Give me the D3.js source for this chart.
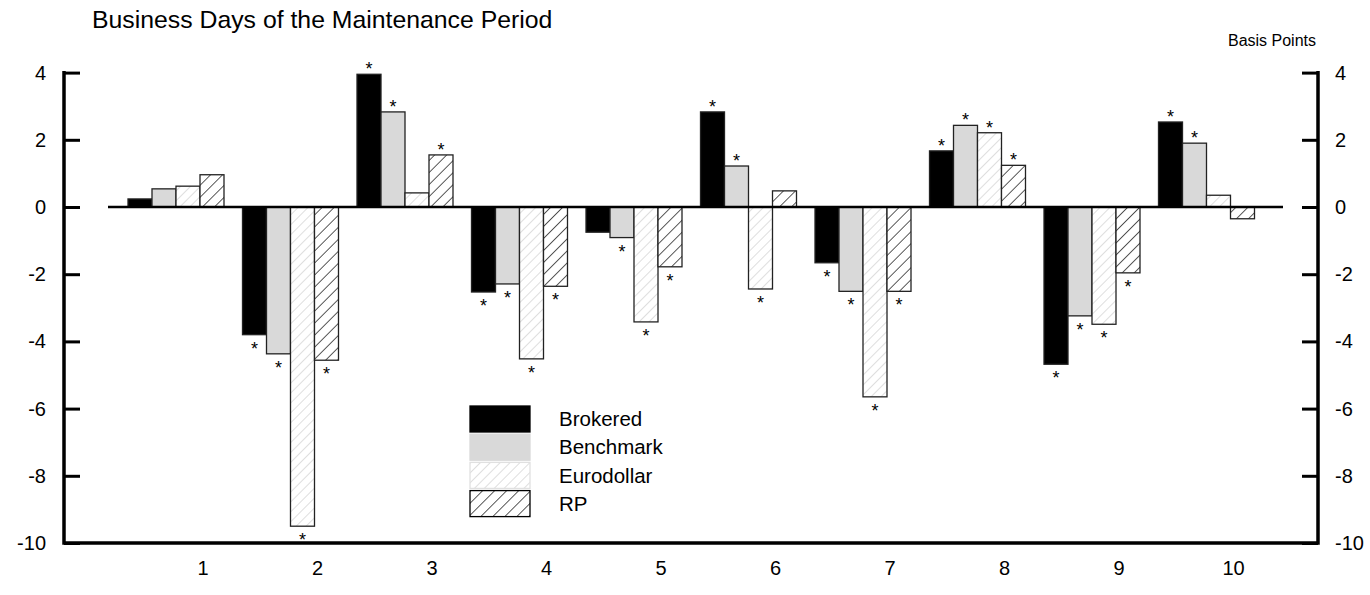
<!DOCTYPE html>
<html>
<head>
<meta charset="utf-8">
<script src="https://cdn.jsdelivr.net/npm/d3@7"></script>
<style>
  body { margin: 0; background: #fff; }
  svg text { font-family: "Liberation Sans", Arial, sans-serif; fill: #000; }
</style>
</head>
<body>
<script>
// business days of the maintenance period
const days = ['1', '2', '3', '4', '5', '6', '7', '8', '9', '10'];
const seriesNames = ['Brokered', 'Benchmark', 'Eurodollar', 'RP'];

// basis points
const brokered   = [0.24, -3.8, 3.95, -2.53, -0.75, 2.83, -1.66, 1.67, -4.68, 2.53];
const benchmark  = [0.54, -4.37, 2.83, -2.29, -0.91, 1.22, -2.51, 2.43, -3.24, 1.9];
const eurodollar = [0.62, -9.5, 0.42, -4.52, -3.42, -2.44, -5.65, 2.21, -3.49, 0.35];
const rp         = [0.96, -4.56, 1.55, -2.36, -1.78, 0.48, -2.51, 1.24, -1.96, -0.35];

// significance stars (1 = marked)
const starBrokered   = [0, 1, 1, 1, 0, 1, 1, 1, 1, 1];
const starBenchmark  = [0, 1, 1, 1, 1, 1, 1, 1, 1, 1];
const starEurodollar = [0, 1, 0, 1, 1, 1, 1, 1, 1, 0];
const starRp         = [0, 1, 1, 1, 1, 0, 1, 1, 1, 0];

const yTicks = [4, 2, 0, -2, -4, -6, -8, -10];

const values = [brokered, benchmark, eurodollar, rp];
const stars = [starBrokered, starBenchmark, starEurodollar, starRp];

const width = 1370, height = 595;
const axL = 64, axR = 1318;

const svg = d3.select('body').append('svg').attr('width', width).attr('height', height);
const defs = svg.append('defs');

const hatch = (id, size, color, sw) => {
  const p = defs.append('pattern').attr('id', id)
    .attr('patternUnits', 'userSpaceOnUse')
    .attr('width', size).attr('height', size)
    .attr('patternTransform', 'rotate(45)');
  p.append('rect').attr('width', size).attr('height', size).attr('fill', '#fff');
  p.append('line').attr('x1', 0).attr('y1', 0).attr('x2', 0).attr('y2', size)
    .attr('stroke', color).attr('stroke-width', sw);
};
hatch('euro', 7, '#c8c8c8', 1.2);
hatch('rp', 8.5, '#000', 1.3);

const fills = ['#000', '#d9d9d9', 'url(#euro)', 'url(#rp)'];

const y = d3.scaleLinear().domain([-10, 4]).range([543, 72.6]);

const x = d3.scaleBand().domain(days).range([128, 1254.5]).paddingInner(0.1616).paddingOuter(0);
const xs = d3.scaleBand().domain(seriesNames).range([0, x.bandwidth()]);

// axes
svg.append('g')
  .attr('transform', `translate(${axL},0)`)
  .call(d3.axisRight(y).tickValues(yTicks).tickSize(16).tickFormat(''))
  .call(g => g.select('.domain').remove())
  .call(g => g.selectAll('line').attr('stroke', '#000').attr('stroke-width', 3));
svg.append('g')
  .attr('transform', `translate(${axR},0)`)
  .call(d3.axisLeft(y).tickValues(yTicks).tickSize(16).tickFormat(''))
  .call(g => g.select('.domain').remove())
  .call(g => g.selectAll('line').attr('stroke', '#000').attr('stroke-width', 3));

svg.append('path')
  .attr('d', `M${axL},${y(4) - 1.5}V${y(-10)}H${axR}V${y(4) - 1.5}`)
  .attr('fill', 'none').attr('stroke', '#000').attr('stroke-width', 3.5);

svg.append('g').selectAll('text').data(yTicks).join('text')
  .attr('x', 46).attr('y', d => y(d)).attr('dy', '0.35em')
  .attr('text-anchor', 'end').attr('font-size', 20).text(d => d);
svg.append('g').selectAll('text').data(yTicks).join('text')
  .attr('x', 1335).attr('y', d => y(d)).attr('dy', '0.35em')
  .attr('text-anchor', 'start').attr('font-size', 20).text(d => d);

// day labels sit to the right of each group
svg.append('g').selectAll('text').data(days).join('text')
  .attr('x', d => x(d) + 75).attr('y', 575)
  .attr('text-anchor', 'middle').attr('font-size', 20).text(d => d);

// bars
const flat = [];
days.forEach((d, i) => seriesNames.forEach((s, j) => {
  flat.push({day: d, s, j, v: values[j][i], star: stars[j][i]});
}));

const bars = svg.append('g');
bars.selectAll('rect').data(flat).join('rect')
  .attr('x', d => x(d.day) + xs(d.s))
  .attr('y', d => y(Math.max(0, d.v)))
  .attr('width', xs.bandwidth())
  .attr('height', d => Math.abs(y(d.v) - y(0)))
  .attr('fill', d => fills[d.j])
  .attr('stroke', '#222').attr('stroke-width', 1.3);

bars.selectAll('text').data(flat.filter(d => d.star)).join('text')
  .attr('x', d => x(d.day) + xs(d.s) + xs.bandwidth() / 2)
  .attr('y', d => d.v >= 0 ? y(d.v) + 1 : y(d.v) + 20)
  .attr('text-anchor', 'middle').attr('font-size', 18).text('*');

// zero line
svg.append('line')
  .attr('x1', 108).attr('x2', 1283)
  .attr('y1', y(0)).attr('y2', y(0))
  .attr('stroke', '#000').attr('stroke-width', 2.5);

// titles
svg.append('text').attr('x', 92).attr('y', 28).attr('font-size', 24.8)
  .text('Business Days of the Maintenance Period');
svg.append('text').attr('x', 1316).attr('y', 46).attr('font-size', 16)
  .attr('text-anchor', 'end').text('Basis Points');

// legend
const legendStroke = ['#000', '#d9d9d9', '#e0e0e0', '#000'];
const lg = svg.append('g').attr('transform', 'translate(470,406)');
const row = lg.selectAll('g').data(seriesNames).join('g')
  .attr('transform', (d, i) => `translate(0,${i * 28.2})`);
row.append('rect').attr('width', 60).attr('height', 26)
  .attr('fill', (d, i) => fills[i])
  .attr('stroke', (d, i) => legendStroke[i]).attr('stroke-width', 1.3);
row.append('text').attr('x', 89).attr('y', 13).attr('dy', '0.35em')
  .attr('font-size', 20.5).text(d => d);
</script>
</body>
</html>
